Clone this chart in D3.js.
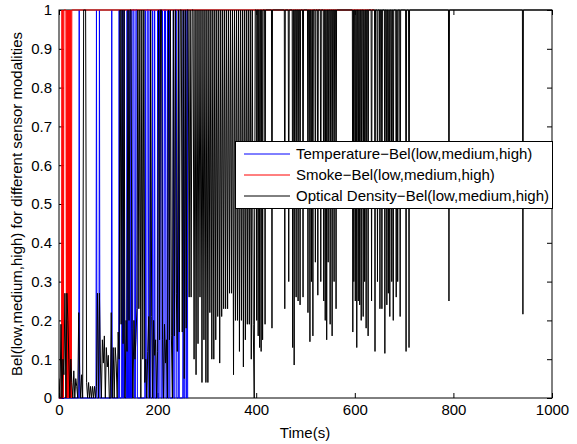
<!DOCTYPE html>
<html><head><meta charset="utf-8">
<script src="https://cdn.jsdelivr.net/npm/d3@7"></script>
<style>
html,body{margin:0;padding:0;background:#fff;}
text{font-family:"Liberation Sans",Arial,Helvetica,sans-serif;}
</style></head>
<body><svg id="chart" width="577" height="444"></svg>
<script>
const xTickValues = [0, 200, 400, 600, 800, 1000];
const yTickValues = [0, 0.1, 0.2, 0.3, 0.4, 0.5, 0.6, 0.7, 0.8, 0.9, 1];
const seriesNames = ["Temperature\u2212Bel(low,medium,high)", "Smoke\u2212Bel(low,medium,high)", "Optical Density\u2212Bel(low,medium,high)"];
const seriesColors = ["#0000ff", "#ff0000", "#000000"];
const xLabel = "Time(s)";
const yLabel = "Bel(low,medium,high) for different sensor modalities";

// Temperature belief: [time, value]
const temperaturePoints = [
[0,0],[40,0],[41,1],[42,0],
[75,0],[76,1],[77,0],[81,0],[82,1],[83,0],
[106,0],[107,1],[108,0],
[121,0],[122,1],[123,0],[127,0],[128,1],[129,0],[131,0],[132,1],[133,0],
[137,0],[138,1],[139,0],[141,0],[142,1],[143,0],[145,0],[146,1],[147,0],
[149,0],[150,1],[152,1],[153,0],[155,0],[156,1],[158,1],[159,0],
[174,0],[175,1],[176,0],[178,0],[179,1],[181,1],[182,0],[184,0],[185,1],[186,0],
[189,0],[190,1],[191,0],[193,0],[194,1],[195,0],
[199,0],[200,1],[201,0],[203,0],[204,1],[206,1],[207,0],[209,0],[210,1],[211,0],[213,0],[214,1],[216,1],[217,0],
[219,0],[220,1],[221,0],[223,0],[224,1],[225,0],
[231,0],[232,1],[233,0],[235,0],[236,1],[238,1],[239,0],[242,0],[243,1],[244,0],
[251,0],[252,1],[253,0],[255,0],[256,1],[257,1],[258,0],[259,0],[260,1],[261,0],[262,0]
];

// Smoke belief: [time, value]
const smokePoints = [
[0,0],[5,0],[6,1],[7,0],[8,1],[9,0],[10,1],[14,1],[15,0],[16,1],[17,0],[18,1],[19,0],[20,1],[21,0],[22,1],[23,0],
[24,1],[25,0],[26,1],[640,1]
];

// Optical density belief, first part: one value every 2 s from t = 0 to t = 398
const opticalEarlyStep = 2;
const opticalEarlyValues = [
0.05,0,0.19,0,0.1,0.06,0.27,0,0.27,0.2,
0.1,0,0.1,0.04,0,0.07,0,0.05,0.03,0,
0.22,0.06,0,0.06,0,1,1,1,0.04,0,
0.04,0,0.03,0,0.03,0,0.03,0,0.03,0.27,
0,0.27,0.09,0,0.15,0.09,0.16,0,0.13,0.08,
0.11,0,0,0.22,0,0.13,0,0.13,0.09,0,
0.17,0.1,1,0.19,1,0.14,1,0,0.2,0.12,
1,0.2,1,1,0.18,0,0.2,0.1,0.15,0.23,
1,0.23,1,0,1,0.1,1,0.04,0.1,0,
0.12,0.21,0,1,0.21,0,0.2,0.11,0.15,0,
0.12,1,0.15,1,1,0.15,0,0.19,0.09,0.15,
0,1,0.15,1,0.16,0,1,0.16,1,0.27,
0.12,1,0.17,1,1,0.17,1,0.05,1,0.18,
1,1,0.26,1,0.26,1,1,0.1,1,0.06,
1,0.14,1,0.26,1,0.04,1,0.15,1,0.04,
1,0.04,1,0.22,1,0.1,1,0.1,1,0.15,
1,0.21,1,0.09,1,0.21,1,0.23,1,0.23,
1,0.23,1,0.27,1,0.27,1,0.06,1,0.2,
1,0.2,1,0.12,1,0.2,1,0.08,1,0.15,
1,0.19,1,0.19,1,0.1,1,0.19,0,1
];

// Optical density belief, second part: [time, value] (mostly 1 with downward dips)
const opticalLatePoints = [
[400,1],[401,0.2],[402,1],[403,1],[404,0.16],[405,1],[406,1],[407,0.13],[408,1],[409,1],[410,0.12],[411,1],[412,1],
[413,0.15],[414,1],[417,1],[418,0.19],[419,1],[431,1],[432,0.18],[433,1],[457,1],[458,0.23],[459,1],[465,1],[466,0.3],
[467,1],[473,1],[474,0.13],[475,1],[476,1],[477,0.085],[478,1],[480,1],[481,0.26],[482,1],[484,1],[485,0.25],[486,1],
[488,1],[489,0.24],[490,1],[494,1],[495,0.26],[496,1],[504,1],[505,0.22],[506,1],[508,1],[509,0.145],[510,1],[511,1],
[512,0.3],[513,1],[514,1],[515,0.16],[516,1],[519,1],[520,0.35],[521,1],[524,1],[525,0.265],[526,1],[530,1],[531,0.3],
[532,1],[536,1],[537,0.25],[538,1],[539,1],[540,0.2],[541,1],[542,1],[543,0.15],[544,1],[545,1],[546,0.35],[547,1],
[549,1],[550,0.19],[551,1],[553,1],[554,0.16],[555,1],[557,1],[558,0.3],[559,1],[561,1],[562,0.23],[563,1],
[595,1],[596,0.17],[597,1],[598,0.3],[599,1],[600,1],[601,0.25],[602,1],[603,1],[604,0.13],[605,1],[606,1],[607,0.25],
[608,1],[609,1],[610,0.24],[611,1],[612,1],[613,0.2],[614,1],[616,1],[617,0.21],[618,1],[619,1],[620,0.3],[621,1],
[622,1],[623,0.18],[624,1],[626,1],[627,0.16],[628,1],[633,1],[634,0.25],[635,1],[640,1],[641,0.12],[642,1],[645,1],
[646,0.3],[647,1],[650,1],[651,0.23],[652,1],[654,1],[655,0.23],[656,1],[660,1],[661,0.115],[662,1],[664,1],[665,0.24],
[666,1],[667,1],[668,0.27],[669,1],[670,1],[671,0.21],[672,1],[674,1],[675,0.3],[676,1],[677,1],[678,0.2],[679,1],
[683,1],[684,0.26],[685,1],[686,1],[687,0.3],[688,1],[691,1],[692,0.21],[693,1],[703,1],[704,0.12],[705,1],[709,1],
[710,0.13],[711,1],[790,1],[791,0.25],[792,1],[940,1],[941,0.216],[942,1],[1000,1]
];

const opticalPoints = opticalEarlyValues.map((v, i) => [i * opticalEarlyStep, v]).concat(opticalLatePoints);
const seriesData = [temperaturePoints, smokePoints, opticalPoints];

const svg = d3.select("#chart");
const pLeft = 59, pRight = 552, pTop = 10, pBottom = 398;
const x = d3.scaleLinear().domain([0, 1000]).range([pLeft, pRight]);
const y = d3.scaleLinear().domain([0, 1]).range([pBottom, pTop]);
const fontSize = 15;

svg.append("rect").attr("x", 0).attr("y", 0).attr("width", 577).attr("height", 444).attr("fill", "#fff");

// axes box
svg.append("rect").attr("x", pLeft).attr("y", pTop).attr("width", pRight - pLeft).attr("height", pBottom - pTop)
  .attr("fill", "#fff").attr("stroke", "#000").attr("stroke-width", 1);

function styleAxis(g) {
  g.select(".domain").remove();
  g.selectAll(".tick line").attr("stroke", "#000").attr("stroke-width", 1);
  g.selectAll(".tick text").attr("fill", "#000").style("font-size", fontSize + "px")
    .style("font-family", "'Liberation Sans',Arial,sans-serif");
}
const fmtY = d => d3.format("~g")(d);
svg.append("g").attr("transform", `translate(0,${pBottom})`)
  .call(d3.axisBottom(x).tickValues(xTickValues).tickSizeInner(-5).tickSizeOuter(0).tickPadding(6).tickFormat(d3.format("d")))
  .call(styleAxis);
svg.append("g").attr("transform", `translate(0,${pTop})`)
  .call(d3.axisTop(x).tickValues(xTickValues).tickSizeInner(-5).tickSizeOuter(0).tickFormat(""))
  .call(styleAxis);
svg.append("g").attr("transform", `translate(${pLeft},0)`)
  .call(d3.axisLeft(y).tickValues(yTickValues).tickSizeInner(-5).tickSizeOuter(0).tickPadding(7).tickFormat(fmtY))
  .call(styleAxis);
svg.append("g").attr("transform", `translate(${pRight},0)`)
  .call(d3.axisRight(y).tickValues(yTickValues).tickSizeInner(-5).tickSizeOuter(0).tickFormat(""))
  .call(styleAxis);

// clip
svg.append("clipPath").attr("id", "plotclip").append("rect")
  .attr("x", pLeft).attr("y", pTop - 1).attr("width", pRight - pLeft).attr("height", pBottom - pTop + 2);

const line = d3.line().x(d => x(d[0])).y(d => y(d[1]));
const plot = svg.append("g").attr("clip-path", "url(#plotclip)");
seriesData.forEach((pts, i) => {
  plot.append("path").datum(pts).attr("d", line).attr("fill", "none")
    .attr("stroke", seriesColors[i]).attr("stroke-width", 1).attr("stroke-linejoin", "miter");
});

// labels
svg.append("text").attr("x", 305).attr("y", 438).attr("text-anchor", "middle")
  .style("font-size", fontSize + "px").text(xLabel);
svg.append("text").attr("transform", `translate(22,${(pTop + pBottom) / 2}) rotate(-90)`)
  .attr("text-anchor", "middle").style("font-size", fontSize + "px").text(yLabel);

// legend
const lg = svg.append("g");
lg.append("rect").attr("x", 235.5).attr("y", 141.5).attr("width", 317).attr("height", 67)
  .attr("fill", "#fff").attr("stroke", "#000").attr("stroke-width", 1);
seriesNames.forEach((name, i) => {
  const yy = 154 + i * 21;
  lg.append("line").attr("x1", 244).attr("x2", 290).attr("y1", yy).attr("y2", yy)
    .attr("stroke", seriesColors[i]).attr("stroke-width", 1);
  lg.append("text").attr("x", 296).attr("y", yy + 5).style("font-size", fontSize + "px").text(name);
});
</script></body></html>
